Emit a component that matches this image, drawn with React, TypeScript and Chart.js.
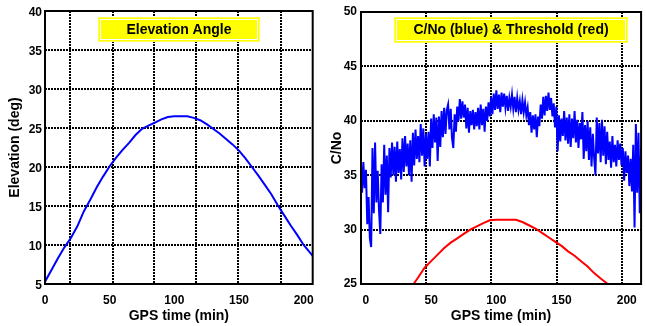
import React, { useEffect, useRef } from "react";
import { Chart, registerables } from "chart.js";
Chart.register(...registerables);

// ---------- data ----------
const xTickValues = [0, 50, 100, 150, 200];

const elevTime = [0, 5, 10, 15, 20, 25, 30, 35, 40, 45, 50, 55, 60, 65, 70, 75, 80, 85, 90, 95, 100, 105, 110, 115, 120, 125, 130, 135, 140, 145, 150, 155, 160, 165, 170, 175, 180, 185, 190, 195, 200, 207];
const elevDeg = [5.3, 6.8, 8.3, 9.7, 10.9, 12.4, 14.3, 15.8, 17.4, 18.8, 20.1, 21.2, 22.2, 23.1, 24.1, 24.9, 25.3, 25.7, 26.1, 26.4, 26.5, 26.5, 26.5, 26.3, 26.0, 25.5, 24.9, 24.3, 23.6, 22.9, 22.1, 21.1, 20.0, 18.9, 17.7, 16.5, 15.1, 13.8, 12.5, 11.3, 10.0, 8.6];
const elevGridX = [19.6, 52.8, 84.6, 117.1, 149.6, 182.8];

const thrTime = [36.5, 40, 45, 50, 55, 60, 65, 70, 75, 80, 85, 90, 95, 100, 105, 110, 115, 120, 125, 130, 135, 140, 145, 150, 155, 160, 165, 170, 175, 180, 185.5];
const thrValues = [25.0, 25.6, 26.5, 27.1, 27.7, 28.3, 28.8, 29.2, 29.6, 30.0, 30.3, 30.6, 30.85, 30.9, 30.9, 30.9, 30.9, 30.7, 30.4, 30.1, 29.7, 29.3, 28.9, 28.5, 28.0, 27.6, 27.1, 26.6, 26.0, 25.5, 25.0];

const cnoStartMin = -4;
const cnoStepMin = 1;
const cnoValues = [
  36.5, 33.4, 36.2, 33.8, 35.5, 30.5, 33.0, 29.2, 28.4, 37.5,
  31.5, 38.0, 32.5, 35.4, 31.8, 29.6, 36.0, 32.5, 37.8, 33.2,
  36.8, 31.6, 37.5, 34.8, 38.0, 35.0, 37.6, 34.4, 38.1, 35.2,
  37.4, 34.6, 38.4, 35.3, 38.6, 35.8, 37.9, 35.0, 38.2, 34.4,
  38.9, 35.9, 39.2, 36.5, 38.6, 36.2, 39.7, 36.8, 39.3, 35.8,
  38.8, 36.5, 39.0, 35.8, 40.2, 37.5, 40.6, 38.0, 40.3, 36.3,
  40.4, 37.6, 40.9, 38.5, 41.2, 38.8, 41.0, 41.5, 39.2, 41.1,
  38.4, 37.5, 40.6, 39.0, 41.3, 40.0, 42.0, 40.2, 41.8, 40.3,
  41.5, 39.3, 41.2, 38.9, 40.9, 39.6, 41.0, 39.2, 40.8, 39.5,
  41.2, 39.2, 41.5, 39.6, 41.1, 39.0, 41.3, 40.0, 41.7, 40.4,
  42.2, 40.6, 42.5, 41.0, 42.8, 41.1, 42.4, 40.8, 42.6, 41.3,
  42.5, 41.2, 42.3, 40.9, 42.1, 41.3, 42.4, 41.1, 42.2, 40.8,
  42.1, 41.0, 41.8, 40.6, 41.9, 40.8, 41.7, 40.5, 41.2, 39.6,
  40.8, 38.9, 40.5, 39.2, 40.6, 38.5, 40.4, 39.5, 41.5, 40.2,
  42.2, 40.5, 42.3, 40.9, 42.6, 41.0, 42.1, 40.4, 41.6, 39.4,
  41.3, 37.2, 40.5, 38.1, 40.2, 38.6, 40.9, 38.2, 40.3, 37.9,
  40.6, 37.6, 40.2, 38.4, 40.9, 38.0, 40.1, 37.5, 39.8, 38.3,
  40.8, 36.5, 39.6, 37.2, 40.0, 36.4, 39.4, 35.8, 38.8, 36.6,
  35.0, 40.3, 37.0, 39.8, 36.2, 40.1, 36.8, 39.5, 36.0, 39.0,
  36.4, 38.1, 35.7, 38.6, 36.2, 37.8, 35.8, 38.2, 36.4, 37.9,
  35.9, 37.5, 34.5, 37.2, 35.2, 36.8, 34.0, 36.5, 33.5, 37.8,
  30.2, 39.7, 33.4, 38.9, 31.5, 37.5,
];
const cnoGridX = [46, 96, 146.7, 196.6];

// ---------- styling ----------
const FONT = "'Liberation Sans', Arial, Helvetica, sans-serif";

const framePlugin = {
  id: "frameBox",
  afterDatasetsDraw(chart: any) {
    const { ctx, chartArea } = chart;
    ctx.save();
    ctx.strokeStyle = "#000";
    ctx.lineWidth = 2;
    ctx.setLineDash([]);
    ctx.strokeRect(chartArea.left, chartArea.top, chartArea.right - chartArea.left, chartArea.bottom - chartArea.top);
    ctx.restore();
  },
};

const titleBoxPlugin = {
  id: "titleBox",
  beforeDatasetsDraw(chart: any, _args: any, opts: any) {
    if (!opts || !opts.text) return;
    const { ctx } = chart;
    const { x, y, w, h, text } = opts;
    ctx.save();
    ctx.fillStyle = "#ffff00";
    ctx.fillRect(x, y, w, h);
    ctx.setLineDash([1, 1]);
    ctx.strokeStyle = "#ffffaa";
    ctx.lineWidth = 1;
    ctx.strokeRect(x + 0.5, y + 0.5, w - 1, h - 1);
    ctx.setLineDash([]);
    ctx.strokeStyle = "#ffffff";
    ctx.strokeRect(x + 2.5, y + 2.5, w - 5, h - 5);
    ctx.fillStyle = "#000";
    ctx.font = `bold 14px ${FONT}`;
    ctx.textAlign = "center";
    ctx.textBaseline = "middle";
    ctx.fillText(text, x + w / 2, y + h / 2 + 0.5);
    ctx.restore();
  },
};

type PanelProps = {
  left: number;
  datasets: any[];
  xMin: number;
  xMax: number;
  yMin: number;
  yMax: number;
  gridX: number[];
  yTitle: string;
  yTitlePad: number;
  yTickPad: number;
  yLabelOffset: number;
  axisWidth: number;
  padTop: number;
  padRight: number;
  box: { x: number; y: number; w: number; h: number; text: string };
};

function Panel(p: PanelProps) {
  const ref = useRef<HTMLCanvasElement | null>(null);
  useEffect(() => {
    if (!ref.current) return;
    const tickFont = { family: FONT, size: 12, weight: "bold" as const };
    const titleFont = { family: FONT, size: 14, weight: "bold" as const };
    const chart = new Chart(ref.current, {
      type: "line",
      data: { datasets: p.datasets },
      options: {
        responsive: false,
        animation: false,
        devicePixelRatio: 1,
        layout: { padding: { top: p.padTop, right: p.padRight, left: 0, bottom: 0 } },
        elements: { point: { radius: 0 }, line: { tension: 0 } },
        plugins: {
          legend: { display: false },
          tooltip: { enabled: false },
          titleBox: p.box,
        } as any,
        scales: {
          x: {
            type: "linear",
            position: "bottom",
            min: p.xMin,
            max: p.xMax,
            afterBuildTicks: (s: any) => {
              s.ticks = xTickValues.map((v) => ({ value: v }));
            },
            afterFit: (s: any) => {
              s.height = 42;
            },
            grid: { display: false, drawTicks: false },
            border: { display: false },
            ticks: { color: "#000", font: tickFont, padding: 9, autoSkip: false, maxRotation: 0 },
            title: { display: true, text: "GPS time (min)", color: "#000", font: titleFont, padding: { top: 0, bottom: 1 } },
          },
          xg: {
            type: "linear",
            position: "top",
            min: p.xMin,
            max: p.xMax,
            afterBuildTicks: (s: any) => {
              s.ticks = p.gridX.map((v) => ({ value: v }));
            },
            afterFit: (s: any) => {
              s.height = 0;
            },
            grid: { color: "#000", lineWidth: 2, drawTicks: false },
            border: { display: false, dash: [2, 1] },
            ticks: { display: false, autoSkip: false },
          },
          y: {
            type: "linear",
            min: p.yMin,
            max: p.yMax,
            ticks: { stepSize: 5, color: "#000", font: tickFont, padding: p.yTickPad, labelOffset: p.yLabelOffset },
            afterFit: (s: any) => {
              s.width = p.axisWidth;
            },
            grid: { color: "#000", lineWidth: 2, drawTicks: false },
            border: { display: false, dash: [2, 1] },
            title: { display: true, text: p.yTitle, color: "#000", font: titleFont, padding: { top: p.yTitlePad, bottom: 0 } },
          },
        },
      } as any,
      plugins: [titleBoxPlugin, framePlugin],
    });
    return () => chart.destroy();
  }, []);
  return (
    <canvas
      ref={ref}
      width={323}
      height={326}
      style={{ position: "absolute", left: p.left, top: 0, width: 323, height: 326, display: "block" }}
    />
  );
}

export default function App() {
  const elevData = elevTime.map((t, i) => ({ x: t, y: elevDeg[i] }));
  const cnoData = cnoValues.map((v, i) => ({ x: cnoStartMin + i * cnoStepMin, y: v }));
  const thrData = thrTime.map((t, i) => ({ x: t, y: thrValues[i] }));
  return (
    <div style={{ position: "fixed", left: 0, top: 0, width: 646, height: 326, background: "#fff", overflow: "hidden" }}>
      <Panel
        left={0}
        datasets={[{ data: elevData, borderColor: "#0000ff", borderWidth: 2, fill: false }]}
        xMin={0}
        xMax={207}
        yMin={5}
        yMax={40}
        gridX={elevGridX}
        yTitle="Elevation (deg)"
        yTitlePad={6.6}
        yTickPad={3}
        yLabelOffset={2}
        axisWidth={45}
        padTop={11}
        padRight={4}
        box={{ x: 98, y: 17, w: 162, h: 25, text: "Elevation Angle" }}
      />
      <Panel
        left={323}
        datasets={[
          { data: cnoData, borderColor: "#0000ff", borderWidth: 2, fill: false },
          { data: thrData, borderColor: "#ff0000", borderWidth: 2, fill: false },
        ]}
        xMin={-3.8}
        xMax={211}
        yMin={25}
        yMax={50}
        gridX={cnoGridX}
        yTitle="C/No"
        yTitlePad={5.3}
        yTickPad={4}
        yLabelOffset={0}
        axisWidth={38}
        padTop={12}
        padRight={1}
        box={{ x: 71, y: 17, w: 234, h: 26, text: "C/No (blue) & Threshold (red)" }}
      />
    </div>
  );
}
